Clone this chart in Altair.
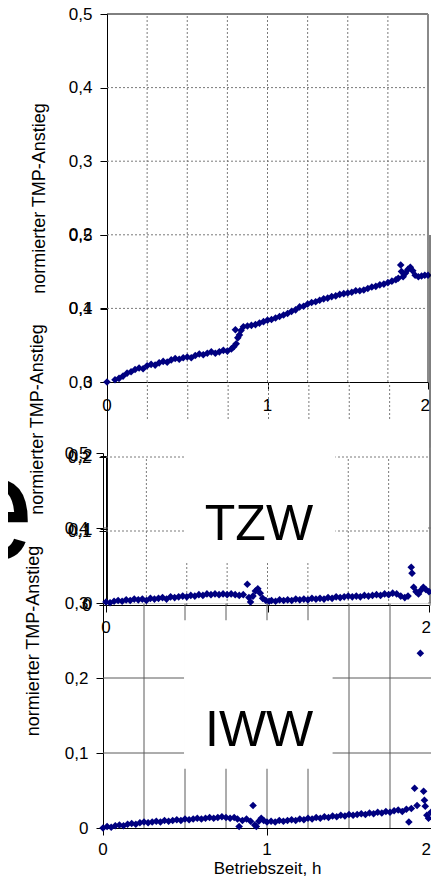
import altair as alt
import pandas as pd

# ---------------- data ----------------
# top panel series (Betriebszeit h, normierter TMP-Anstieg)
t_top = [0.000, 0.050, 0.075, 0.100, 0.125, 0.150, 0.175, 0.200, 0.225, 0.250,
         0.275, 0.300, 0.325, 0.350, 0.375, 0.400, 0.425, 0.450, 0.475, 0.500,
         0.525, 0.550, 0.575, 0.600, 0.625, 0.650, 0.675, 0.700, 0.725, 0.750,
         0.775, 0.790, 0.800, 0.805, 0.815, 0.825, 0.835, 0.850, 0.875, 0.900,
         0.925, 0.950, 0.975, 1.000, 1.025, 1.050, 1.075, 1.100, 1.125, 1.150,
         1.175, 1.200, 1.225, 1.250, 1.275, 1.300, 1.325, 1.350, 1.375, 1.400,
         1.425, 1.450, 1.475, 1.500, 1.525, 1.550, 1.575, 1.600, 1.625, 1.650,
         1.675, 1.700, 1.725, 1.750, 1.775, 1.800, 1.815, 1.830, 1.835, 1.845,
         1.860, 1.875, 1.890, 1.905, 1.920, 1.940, 1.960, 1.980, 2.000]
v_top = [0.000, 0.003, 0.005, 0.008, 0.012, 0.014, 0.017, 0.019, 0.018, 0.022,
         0.024, 0.023, 0.026, 0.028, 0.027, 0.030, 0.032, 0.031, 0.033, 0.034,
         0.033, 0.036, 0.038, 0.037, 0.039, 0.041, 0.039, 0.041, 0.043, 0.042,
         0.045, 0.048, 0.071, 0.052, 0.060, 0.064, 0.070, 0.075, 0.076, 0.077,
         0.078, 0.080, 0.082, 0.084, 0.085, 0.087, 0.089, 0.091, 0.093, 0.096,
         0.098, 0.102, 0.103, 0.106, 0.108, 0.109, 0.111, 0.113, 0.114, 0.116,
         0.117, 0.119, 0.120, 0.121, 0.122, 0.124, 0.124, 0.125, 0.127, 0.129,
         0.130, 0.132, 0.133, 0.135, 0.137, 0.139, 0.141, 0.159, 0.150, 0.143,
         0.148, 0.153, 0.156, 0.151, 0.145, 0.143, 0.144, 0.145, 0.145]

# TZW series
t_tzw = [0.000, 0.025, 0.050, 0.075, 0.100, 0.125, 0.150, 0.175, 0.200, 0.225,
         0.250, 0.275, 0.300, 0.325, 0.350, 0.375, 0.400, 0.425, 0.450, 0.475,
         0.500, 0.525, 0.550, 0.575, 0.600, 0.625, 0.650, 0.675, 0.700, 0.725,
         0.750, 0.775, 0.800, 0.825, 0.850, 0.875, 0.885, 0.895, 0.910, 0.925,
         0.940, 0.955, 0.970, 0.990, 1.010, 1.025, 1.050, 1.075, 1.100, 1.125,
         1.150, 1.175, 1.200, 1.225, 1.250, 1.275, 1.300, 1.325, 1.350, 1.375,
         1.400, 1.425, 1.450, 1.475, 1.500, 1.525, 1.550, 1.575, 1.600, 1.625,
         1.650, 1.675, 1.700, 1.725, 1.750, 1.775, 1.800, 1.825, 1.850, 1.870,
         1.890, 1.895, 1.905, 1.920, 1.935, 1.950, 1.965, 1.980, 2.000]
v_tzw = [0.004, 0.003, 0.005, 0.006, 0.005, 0.007, 0.006, 0.008, 0.007, 0.008,
         0.006, 0.009, 0.008, 0.009, 0.010, 0.008, 0.011, 0.010, 0.011, 0.012,
         0.011, 0.013, 0.012, 0.014, 0.013, 0.015, 0.014, 0.015, 0.014, 0.015,
         0.014, 0.015, 0.014, 0.013, 0.014, 0.028, 0.010, 0.004, 0.012, 0.019,
         0.022, 0.016, 0.009, 0.006, 0.005, 0.006, 0.005, 0.007, 0.006, 0.007,
         0.006, 0.008, 0.007, 0.008, 0.007, 0.009, 0.008, 0.009, 0.008, 0.010,
         0.009, 0.011, 0.010, 0.011, 0.012, 0.011, 0.012, 0.011, 0.013, 0.012,
         0.013, 0.014, 0.013, 0.015, 0.014, 0.016, 0.015, 0.012, 0.010, 0.012,
         0.051, 0.043, 0.024, 0.018, 0.015, 0.020, 0.024, 0.021, 0.018]

# IWW series
t_iww = [0.000, 0.025, 0.050, 0.075, 0.100, 0.125, 0.150, 0.175, 0.200, 0.225,
         0.250, 0.275, 0.300, 0.325, 0.350, 0.375, 0.400, 0.425, 0.450, 0.475,
         0.500, 0.525, 0.550, 0.575, 0.600, 0.625, 0.650, 0.675, 0.700, 0.725,
         0.750, 0.775, 0.800, 0.820, 0.830, 0.850, 0.875, 0.900, 0.915, 0.925,
         0.935, 0.950, 0.965, 0.980, 1.000, 1.025, 1.050, 1.075, 1.100, 1.125,
         1.150, 1.175, 1.200, 1.225, 1.250, 1.275, 1.300, 1.325, 1.350, 1.375,
         1.400, 1.425, 1.450, 1.475, 1.500, 1.525, 1.550, 1.575, 1.600, 1.625,
         1.650, 1.675, 1.700, 1.725, 1.750, 1.775, 1.800, 1.825, 1.850, 1.865,
         1.880, 1.900, 1.915, 1.935, 1.955, 1.960, 1.965, 1.975, 1.985, 2.000]
v_iww = [0.000, 0.002, 0.001, 0.003, 0.004, 0.003, 0.005, 0.006, 0.005, 0.007,
         0.008, 0.007, 0.008, 0.009, 0.008, 0.010, 0.009, 0.010, 0.011, 0.010,
         0.012, 0.011, 0.012, 0.013, 0.012, 0.013, 0.014, 0.013, 0.014, 0.015,
         0.014, 0.013, 0.014, 0.012, 0.002, 0.010, 0.012, 0.009, 0.030, 0.004,
         0.002, 0.009, 0.013, 0.010, 0.008, 0.009, 0.008, 0.010, 0.009, 0.010,
         0.011, 0.010, 0.012, 0.011, 0.013, 0.012, 0.014, 0.013, 0.015, 0.014,
         0.016, 0.015, 0.017, 0.016, 0.018, 0.017, 0.018, 0.019, 0.018, 0.020,
         0.019, 0.021, 0.020, 0.022, 0.021, 0.023, 0.024, 0.022, 0.025, 0.008,
         0.026, 0.053, 0.030, 0.233, 0.049, 0.037, 0.029, 0.017, 0.013, 0.021]

y_ticks = [0, 0.1, 0.2, 0.3, 0.4, 0.5]
y_ticks_tzw = [0, 0.1, 0.2]
x_ticks = [0, 1, 2]
x_tick_labels = ["0", "1", "2"]
x_grid = [0.25, 0.5, 0.75, 1.0, 1.25, 1.5, 1.75]
y_grid = [0.1, 0.2, 0.3, 0.4]
y_grid_tzw = [0.1, 0.2]

y_title = "normierter TMP-Anstieg"
x_title = "Betriebszeit, h"
label_tzw = "TZW"
label_iww = "IWW"
big_letter = "e"

# ---------------- layout / style ----------------
FONT = "Liberation Sans"
NAVY = "#000080"
PAD_L, PAD_T, PAD_B = 92, 8, 38
OX, OY = 8 + PAD_L, 8 + PAD_T          # page position of the plot origin
W, H = 331, 826
LBL = "replace(format(datum.value, '.1~f'), '.', ',')"


def sx_(domain, left, right):
    return alt.Scale(domain=domain, range=[left - OX, right - OX], nice=False, zero=False)


def sy_(domain, bottom, top):
    return alt.Scale(domain=domain, range=[bottom - OY, top - OY], nice=False, zero=False)


def xoff(bottom):
    return (bottom - OY) - H


top_x, top_y = sx_([0, 2], 107, 428), sy_([0, 0.5], 382, 14)
mid_x, mid_y = sx_([0, 2], 107, 430), sy_([0, 0.5], 603, 235)
tzw_x, tzw_y = sx_([0, 2], 106, 429), sy_([0, 0.2], 605, 457)
iww_x, iww_y = sx_([0, 2], 103, 431), sy_([0, 0.5], 828, 453)


def yaxis(values, axis_x, title, tpad=18):
    kw = dict(orient="left", offset=OX - axis_x, values=values, labelExpr=LBL,
              tickSize=7, tickColor="black", domainColor="black",
              labelFont=FONT, labelFontSize=17, labelColor="black",
              labelPadding=8, labelOverlap=False, labelFlush=False,
              grid=False, titleFont=FONT, titleFontSize=18,
              titleFontWeight="normal", titleColor="black", titlePadding=tpad)
    kw["title"] = title
    return alt.Axis(**kw)


def xaxis(bottom, title):
    # tick labels are drawn as text marks (see xlabels) so none gets dropped
    kw = dict(orient="bottom", offset=xoff(bottom), values=x_ticks, labels=False,
              tickSize=7, tickColor="black", domainColor="black",
              grid=False, titleFont=FONT, titleFontSize=17,
              titleFontWeight="normal", titleColor="black", titlePadding=25)
    kw["title"] = title
    return alt.Axis(**kw)


def xlabels(sx, sy, dy, last_dx):
    df = pd.DataFrame({"x": x_ticks, "y": [0, 0, 0], "t": x_tick_labels})
    base = alt.Chart(df)
    enc = dict(x=alt.X("x:Q", scale=sx, axis=None),
               y=alt.Y("y:Q", scale=sy, axis=None), text="t:N")
    mid = base.mark_text(font=FONT, fontSize=17, align="center", baseline="top",
                         dy=dy, color="black").encode(**enc).transform_filter(
        alt.datum.x < 2)
    last = base.mark_text(font=FONT, fontSize=17, align="right", baseline="top",
                          dy=dy, dx=last_dx, color="black").encode(**enc).transform_filter(
        alt.datum.x == 2)
    return [mid, last]


def vlines(xs, y0, y1, sx, sy, **style):
    df = pd.DataFrame({"x": xs, "y0": [y0] * len(xs), "y1": [y1] * len(xs)})
    return alt.Chart(df).mark_rule(**style).encode(
        x=alt.X("x:Q", scale=sx, axis=None),
        y=alt.Y("y0:Q", scale=sy, axis=None), y2="y1:Q")


def hlines(ys, x0, x1, sx, sy, **style):
    df = pd.DataFrame({"y": ys, "x0": [x0] * len(ys), "x1": [x1] * len(ys)})
    return alt.Chart(df).mark_rule(**style).encode(
        y=alt.Y("y:Q", scale=sy, axis=None),
        x=alt.X("x0:Q", scale=sx, axis=None), x2="x1:Q")


def box(x0, x1, y0, y1, sx, sy, **style):
    df = pd.DataFrame({"x0": [x0], "x1": [x1], "y0": [y0], "y1": [y1]})
    return alt.Chart(df).mark_rect(**style).encode(
        x=alt.X("x0:Q", scale=sx, axis=None), x2="x1:Q",
        y=alt.Y("y0:Q", scale=sy, axis=None), y2="y1:Q")


def label(txt, x, y, sx, sy, size, align="center"):
    df = pd.DataFrame({"x": [x], "y": [y], "t": [txt]})
    return alt.Chart(df).mark_text(font=FONT, fontSize=size, align=align,
                                   baseline="alphabetic", color="black").encode(
        x=alt.X("x:Q", scale=sx, axis=None),
        y=alt.Y("y:Q", scale=sy, axis=None), text="t:N")


def points(ts, vs, sx, sy, xax, yax):
    df = pd.DataFrame({"t": ts, "v": vs})
    return alt.Chart(df).mark_point(shape="diamond", filled=True, size=58,
                                    color=NAVY, opacity=1).encode(
        x=alt.X("t:Q", scale=sx, axis=xax),
        y=alt.Y("v:Q", scale=sy, axis=yax))


DOT = dict(color="#7a7a7a", strokeWidth=1, strokeDash=[2, 2])
SOLID = dict(color="#5a5a5a", strokeWidth=1)

layers = [
    # top chart
    hlines(y_grid, 0, 2, top_x, top_y, **DOT),
    vlines(x_grid, 0, 0.5, top_x, top_y, **DOT),
    hlines([0.5], 0, 2, top_x, top_y, color="black", strokeWidth=1),
    vlines([2], 0, 0.5, top_x, top_y, color="#8a8a8a", strokeWidth=2),
    points(t_top, v_top, top_x, top_y, xaxis(382, None), yaxis(y_ticks, 107, y_title, 20)),
    # second (hidden) chart
    vlines(x_grid, 0, 0.3, mid_x, mid_y, **DOT),
    alt.Chart(pd.DataFrame({"x": [2], "y0": [0], "y1": [0.5]})).mark_rule(
        color="black", strokeWidth=1).encode(
        x=alt.X("x:Q", scale=mid_x, axis=None),
        y=alt.Y("y0:Q", scale=mid_y, axis=yaxis(y_ticks, 107, y_title, 22)), y2="y1:Q"),
    *xlabels(top_x, top_y, 16, 2),
    # IWW chart (bottom)
    hlines(y_grid, 0, 2, iww_x, iww_y, **SOLID),
    vlines(x_grid, 0, 0.5, iww_x, iww_y, **SOLID),
    points(t_iww, v_iww, iww_x, iww_y, xaxis(828, x_title), yaxis(y_ticks, 103, y_title, 22)),
    *xlabels(iww_x, iww_y, 14, 0),
    # TZW chart covering the middle
    box(0.012, 1.995, 0.002, 0.25, tzw_x, tzw_y, color="white"),
    hlines(y_grid_tzw, 0, 2, tzw_x, tzw_y, **DOT),
    vlines(x_grid, 0, 0.2, tzw_x, tzw_y, **DOT),
    box(2.006, 2.05, 0.0, 0.212, tzw_x, tzw_y, fillOpacity=0, stroke="#8a8a8a", strokeWidth=1),
    points(t_tzw, v_tzw, tzw_x, tzw_y, xaxis(605, None), yaxis(y_ticks_tzw, 106, None)),
    *xlabels(tzw_x, tzw_y, 15, 2),
    box(0.49, 1.42, 0.057, 0.21, tzw_x, tzw_y, color="white"),
    label(label_tzw, 0.947, 0.088, tzw_x, tzw_y, 50),
    # IWW label box
    box(0.494, 1.40, 0.079, 0.277, iww_x, iww_y, color="white"),
    label(label_iww, 0.952, 0.11, iww_x, iww_y, 50),
    # cut-off large letter at the left edge
    label(big_letter, -0.443, 0.061, tzw_x, tzw_y, 150, align="right"),
]

chart = alt.layer(*layers).resolve_scale(
    x="independent", y="independent").resolve_axis(
    x="independent", y="independent").properties(
    width=W, height=H,
    autosize=alt.AutoSizeParams(type="none"),
    padding={"left": PAD_L, "top": PAD_T, "right": 0, "bottom": PAD_B},
    background="white",
).configure_view(stroke=None)

chart.save("out.html", embed_options={"renderer": "svg", "actions": False})
